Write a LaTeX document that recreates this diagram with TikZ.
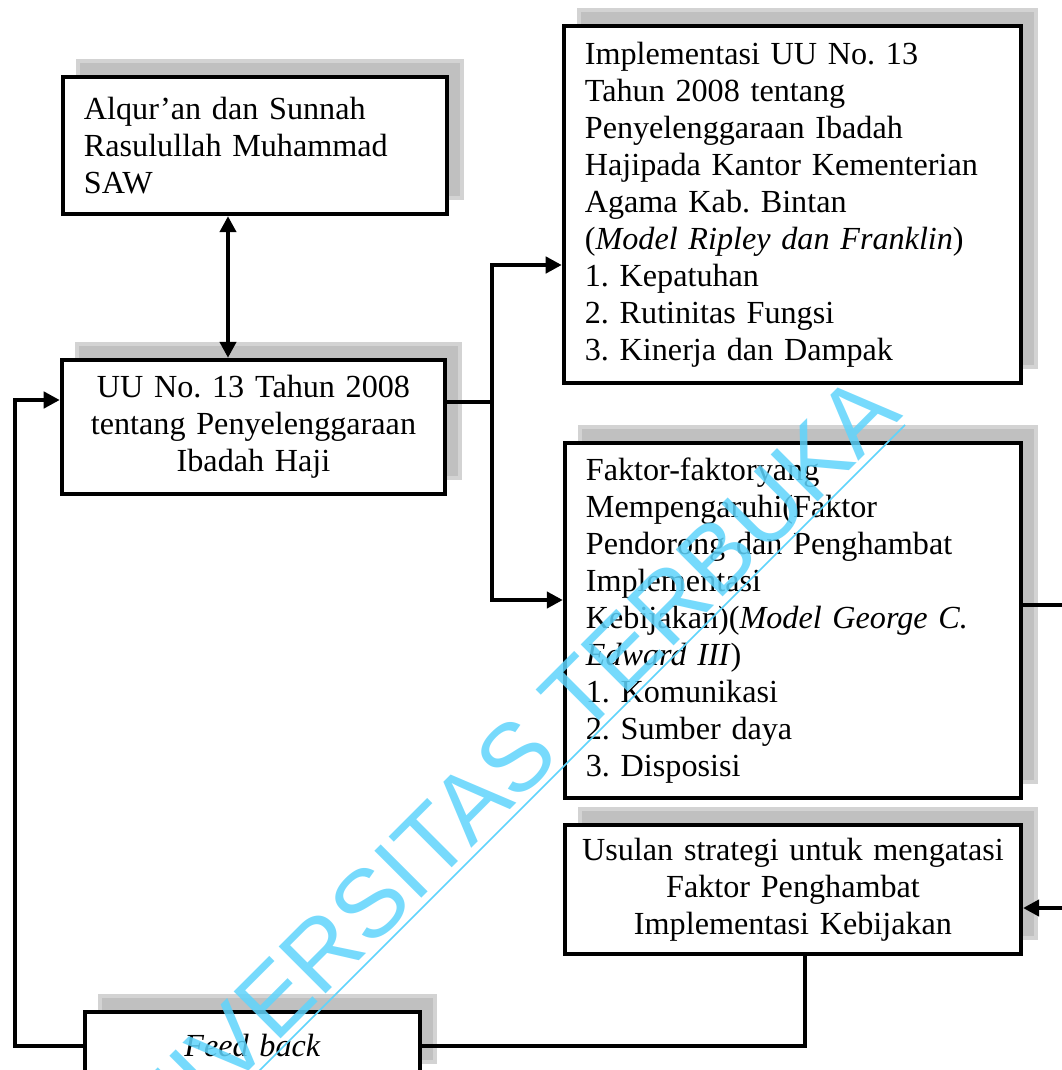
\documentclass[tikz,border=0pt]{standalone}
\usepackage{fontspec}
\setmainfont{Liberation Serif}
\newfontfamily\tandafont{Liberation Sans}
\usetikzlibrary{arrows.meta,shadows}

\definecolor{bayang}{RGB}{192,192,192}
\definecolor{tanda}{RGB}{95,212,252}

\tikzset{
  kotak/.style={draw, line width=1.6pt, fill=white, inner xsep=7.8pt, inner ysep=0pt,
    font=\fontsize{12}{13.8}\selectfont,
    drop shadow={shadow xshift=5.6pt, shadow yshift=6pt, opacity=1, fill=bayang, draw=bayang!70}},
  garis/.style={line width=1.6pt},
  panah/.style={line width=1.6pt, -{Triangle[length=6pt,width=6pt]}}
}

\begin{document}
\frenchspacing
\begin{tikzpicture}[x=0.373pt,y=-0.373pt]
    \useasboundingbox (0,0) rectangle (1061,1070);
    % kotak-kotak
    \node[kotak, align=left, text width=127.6pt, minimum height=51.1pt] (alquran) at (255,145.5)
        {Alqur’an dan Sunnah\\ Rasulullah Muhammad\\ SAW};
    \node[kotak, align=left, text width=154.9pt, minimum height=133.2pt] (impl) at (792.5,204.5)
        {Implementasi UU No. 13\\ Tahun 2008 tentang\\ Penyelenggaraan Ibadah\\
         Hajipada Kantor Kementerian\\ Agama Kab. Bintan\\ (\textit{Model Ripley dan Franklin})\\
         1. Kepatuhan\\ 2. Rutinitas Fungsi\\ 3. Kinerja dan Dampak};
    \node[kotak, align=center, text width=127.3pt, minimum height=50pt] (uu) at (253.5,427)
        {UU No. 13 Tahun 2008\\ tentang Penyelenggaraan\\ Ibadah Haji};
    \node[kotak, align=left, text width=154.5pt, minimum height=132.4pt] (faktor) at (793,620.5)
        {Faktor-faktoryang\\ Mempengaruhi(Faktor\\ Pendorong dan Penghambat\\ Implementasi\\
         Kebijakan)(\textit{Model George C.}\\ \textit{Edward III})\\
         1. Komunikasi\\ 2. Sumber daya\\ 3. Disposisi};
    \node[kotak, align=center, inner xsep=2pt, text width=166pt, minimum height=48.1pt] (usulan) at (793,889.5)
        {Usulan strategi untuk mengatasi\\ Faktor Penghambat\\ Implementasi Kebijakan};
    \node[kotak, align=center, text width=109.4pt, minimum height=24.6pt] (feedback) at (252.5,1045)
        {\textit{Feed back}};

    % titik belok
    \coordinate (dua) at (228,0);
    \coordinate (cabang) at (492,402);
    \coordinate (atas) at (492,265);
    \coordinate (bawah) at (492,600);
    \coordinate (kanan) at (1075,605);
    \coordinate (kanan2) at (1075,908);
    \coordinate (turun) at (805,1046);
    \coordinate (kiri) at (15,1046);
    \coordinate (kiri2) at (15,400);

    % penghubung
    \draw[garis, {Triangle[length=6pt,width=6pt]}-{Triangle[length=6pt,width=6pt]}]
        (dua |- alquran.south) -- (dua |- uu.north);
    \draw[garis] (cabang -| uu.east) -- (cabang);
    \draw[panah] (bawah) -- (atas) -- (atas -| impl.west);
    \draw[panah] (cabang) -- (bawah) -- (bawah -| faktor.west);
    \draw[panah] (kanan -| faktor.east) -- (kanan) -- (kanan2) -- (kanan2 -| usulan.east);
    \draw[garis] (turun |- usulan.south) -- (turun) -- (turun -| feedback.east);
    \draw[panah] (kiri -| feedback.west) -- (kiri) -- (kiri2) -- (kiri2 -| uu.west);

    % tanda air
    \node[rotate=45, anchor=base east, inner sep=0pt, text=tanda, text opacity=0.85,
          font=\tandafont\fontsize{36}{40}\selectfont] (tanda) at (904,416) {UNIVERSITAS TERBUKA};
    \draw[tanda, line width=0.6pt] (200,1130) -- (905,425);
\end{tikzpicture}
\end{document}
